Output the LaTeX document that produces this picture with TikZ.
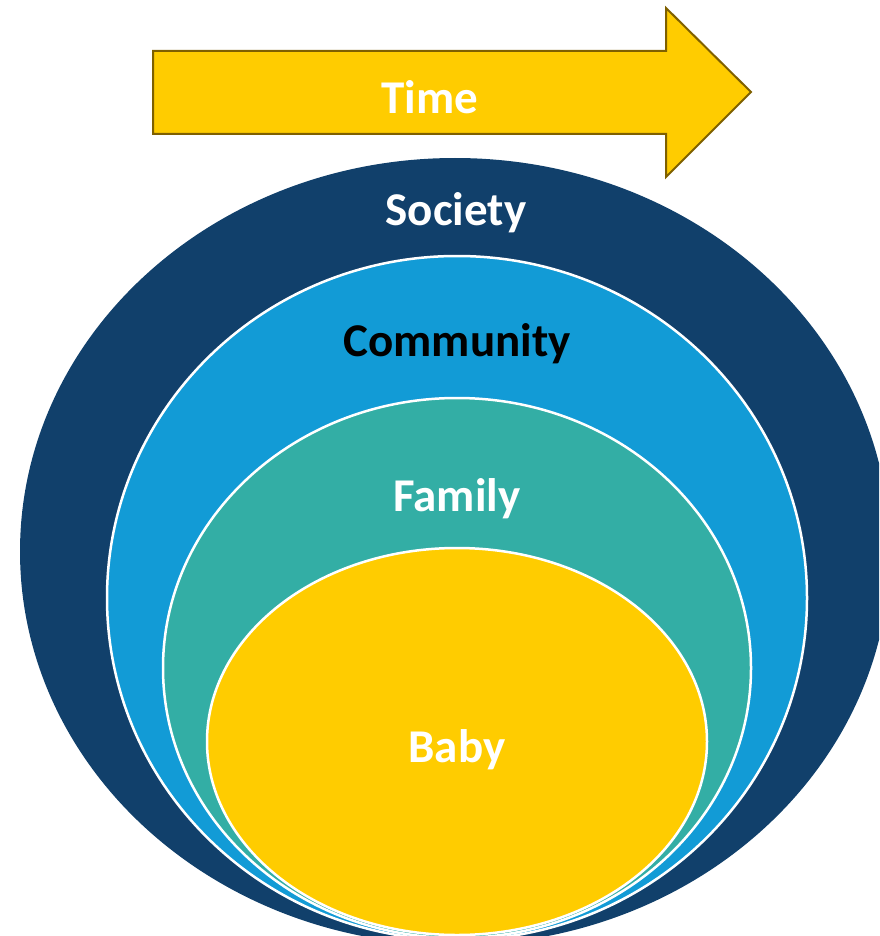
\documentclass[tikz,border=0pt]{standalone}
\usepackage{fontspec}
\setmainfont{Carlito}
\definecolor{society}{HTML}{11406B}
\definecolor{community}{HTML}{129BD6}
\definecolor{family}{HTML}{33AEA5}
\definecolor{baby}{HTML}{FFCC00}
\definecolor{arrowline}{HTML}{7F6000}
\tikzset{
  lbl/.style={font=\fontsize{47}{56}\selectfont\bfseries, inner sep=0pt, anchor=center},
  ring/.style={draw=white, line width=2.5pt},
}
\begin{document}
\begin{tikzpicture}[x=1pt,y=-1pt]
\useasboundingbox (0,0) rectangle (879,936);
\clip (0,0) rectangle (879,936);
% ellipses
\fill[society] (455,551.5) ellipse [x radius=435, y radius=393.5];
\path[ring, fill=community] (457,598) ellipse [x radius=350, y radius=342];
\path[ring, fill=family] (457,668) ellipse [x radius=294, y radius=270];
\path[ring, fill=baby] (457,741.5) ellipse [x radius=250, y radius=193.5];
% arrow
\path[fill=baby, draw=arrowline, line width=2pt, line join=miter]
  (153,51) -- (666,51) -- (666,8) -- (751,92) -- (666,177) -- (666,134) -- (153,134) -- cycle;
% labels
\node[lbl, white] (time) at (430,97) {Time};
\node[lbl, white] (society) at (456,213) {Society};
\node[lbl, black] (community) at (457,344) {Community};
\node[lbl, white] (family) at (457,499) {Family};
\node[lbl, white] (baby) at (457,750) {Baby};
\end{tikzpicture}
\end{document}
